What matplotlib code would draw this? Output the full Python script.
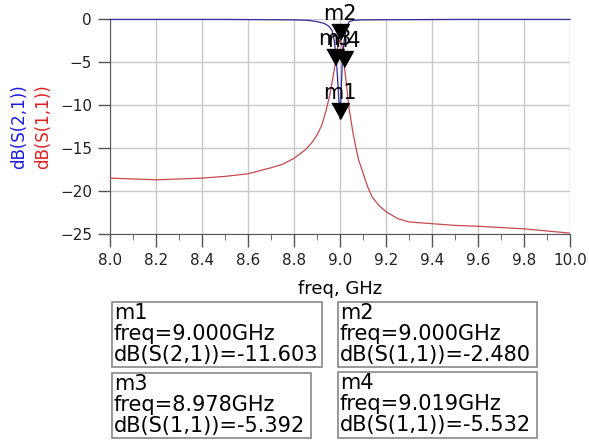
import matplotlib
matplotlib.use("Agg")
import matplotlib.pyplot as plt
from matplotlib.patches import Rectangle
from matplotlib.ticker import MultipleLocator

# S(1,1) (GHz, dB)
s11_freq = [8.0, 8.1, 8.2, 8.3, 8.4, 8.5, 8.6, 8.7, 8.75, 8.8, 8.85, 8.88, 8.9, 8.92,
            8.94, 8.955, 8.968, 8.978, 8.988, 8.995, 9.0, 9.005, 9.012, 9.019, 9.028,
            9.04, 9.055, 9.065, 9.08, 9.1, 9.12, 9.14, 9.17, 9.2, 9.25, 9.3, 9.4, 9.5,
            9.6, 9.7, 9.8, 9.9, 10.0]
s11_db = [-18.5, -18.6, -18.7, -18.6, -18.5, -18.3, -18.0, -17.3, -16.9, -16.2, -15.2,
          -14.3, -13.5, -12.4, -10.6, -8.9, -7.0, -5.392, -3.6, -2.7, -2.48, -2.6, -3.6,
          -5.532, -7.6, -10.5, -13.0, -14.4, -16.3, -17.9, -19.5, -20.7, -21.7, -22.4,
          -23.2, -23.6, -23.8, -24.0, -24.1, -24.25, -24.4, -24.65, -24.9]

# S(2,1)
s21_freq = [8.0, 8.5, 8.8, 8.86, 8.9, 8.93, 8.95, 8.965, 8.975, 8.985, 8.993, 9.0,
            9.005, 9.01, 9.018, 9.028, 9.04, 9.06, 9.1, 9.5, 10.0]
s21_db = [-0.05, -0.05, -0.1, -0.15, -0.3, -0.5, -0.8, -1.3, -2.5, -5.0, -8.5, -11.603,
          -8.5, -5.0, -2.5, -1.0, -0.3, -0.15, -0.1, -0.05, -0.05]

# markers
mk_names = ["m1", "m2", "m3", "m4"]
mk_freq = [9.000, 9.000, 8.978, 9.019]
mk_db = [-11.603, -2.480, -5.392, -5.532]
mk_trace = ["dB(S(2,1))", "dB(S(1,1))", "dB(S(1,1))", "dB(S(1,1))"]

W, H = 589, 441
fig = plt.figure(figsize=(W / 100, H / 100), dpi=100)
ax = fig.add_axes([110 / W, 1 - 234 / H, 460 / W, 215 / H])

ax.plot(s11_freq, s11_db, color="#c8484c", lw=0.9, zorder=3)
ax.plot(s21_freq, s21_db, color="#2b2b9c", lw=0.9, zorder=4, clip_on=False)

tri = [(-0.55, 1.0), (0.55, 1.0), (0.0, 0.0)]
for name, f, d in zip(mk_names, mk_freq, mk_db):
    ax.plot([f], [d], marker=tri, markersize=23, color="black", ls="none",
            zorder=5, clip_on=False)
    ax.annotate(name, (f, d), xytext=(0, 11.5), textcoords="offset points",
                ha="center", va="bottom", fontsize=15, zorder=6)

ax.set_xlim(8.0, 10.0)
ax.set_ylim(-25, 0)
ax.xaxis.set_major_locator(MultipleLocator(0.2))
ax.xaxis.set_minor_locator(MultipleLocator(0.1))
ax.yaxis.set_major_locator(MultipleLocator(5))
ax.xaxis.set_major_formatter(matplotlib.ticker.FormatStrFormatter("%.1f"))
ax.grid(True, which="major", color="#c8c8c8", lw=1.0, zorder=0)
for s in ["top", "right"]:
    ax.spines[s].set_visible(False)
for s in ["left", "bottom"]:
    ax.spines[s].set_color("#555555")
ax.tick_params(axis="both", which="major", labelsize=11, colors="#555555",
               labelcolor="#222222", length=9, width=1)
ax.tick_params(axis="x", which="minor", length=4, colors="#555555")
ax.tick_params(axis="x", pad=5)
ax.tick_params(axis="y", pad=4)

fig.text(340 / W, 1 - 289 / H, "freq, GHz", ha="center", va="center", fontsize=13)
fig.text(19 / W, 1 - 127 / H, "dB(S(2,1))", rotation=90, ha="center", va="center",
         fontsize=12, color="#1a1ae6")
fig.text(43 / W, 1 - 127 / H, "dB(S(1,1))", rotation=90, ha="center", va="center",
         fontsize=12, color="#e02020")

# marker readout boxes (pixel geometry)
boxes = [(112, 302, 322, 367), (338, 302, 537, 367),
         (112, 373, 311, 438), (338, 372, 537, 438)]
for (x0, y0, x1, y1), name, f, d, tr in zip(boxes, mk_names, mk_freq, mk_db, mk_trace):
    fig.add_artist(Rectangle((x0 / W, 1 - y1 / H), (x1 - x0) / W, (y1 - y0) / H,
                             transform=fig.transFigure, fill=False,
                             edgecolor="#888888", lw=1.2))
    lines = [name, f"freq={f:.3f}GHz", f"{tr}={d:.3f}"]
    for i, t in enumerate(lines):
        fig.text((x0 + 2) / W, 1 - (y0 + 17 + i * 21) / H, t, ha="left",
                 va="baseline", fontsize=15)

fig.savefig("out.png", dpi=100)
